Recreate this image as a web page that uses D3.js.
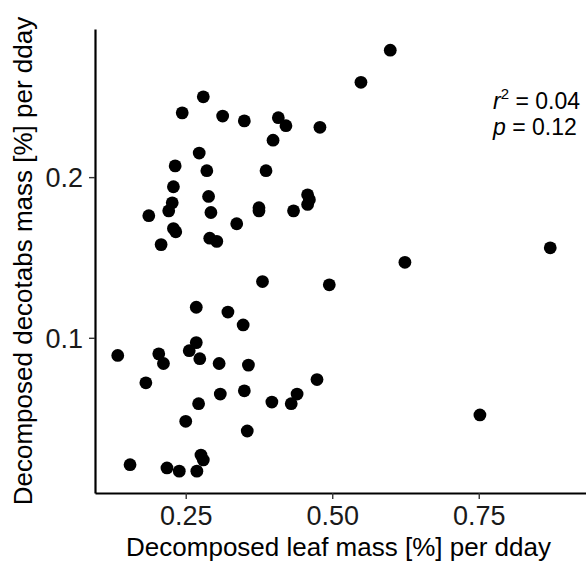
<!DOCTYPE html>
<html>
<head>
<meta charset="utf-8">
<script src="https://cdn.jsdelivr.net/npm/d3@7"></script>
<style>
  html, body { margin: 0; padding: 0; background: #fff; }
  svg { display: block; }
  text { font-family: "Liberation Sans", Arial, Helvetica, sans-serif; }
</style>
</head>
<body>
<svg id="chart" width="586" height="562"></svg>
<script>
// Decomposed leaf mass [%] per dday (x)
const leafMass = [
  0.280, 0.244, 0.313, 0.350, 0.408, 0.421, 0.399, 0.273, 0.232, 0.286,
  0.387, 0.229, 0.289, 0.227, 0.221, 0.187, 0.293, 0.375, 0.375, 0.434,
  0.337, 0.229, 0.233, 0.208, 0.291, 0.303, 0.381, 0.599, 0.549, 0.479,
  0.458, 0.461, 0.458, 0.872, 0.624, 0.495, 0.268, 0.322, 0.348, 0.268,
  0.256, 0.274, 0.134, 0.204, 0.212, 0.307, 0.357, 0.182, 0.350, 0.309,
  0.440, 0.397, 0.430, 0.272, 0.250, 0.355, 0.276, 0.280, 0.155, 0.218,
  0.239, 0.269, 0.474, 0.752
];
// Decomposed decotabs mass [%] per dday (y)
const decotabsMass = [
  0.250, 0.240, 0.238, 0.235, 0.237, 0.232, 0.223, 0.215, 0.207, 0.204,
  0.204, 0.194, 0.188, 0.184, 0.179, 0.176, 0.178, 0.181, 0.179, 0.179,
  0.171, 0.168, 0.166, 0.158, 0.162, 0.160, 0.135, 0.279, 0.259, 0.231,
  0.189, 0.186, 0.183, 0.156, 0.147, 0.133, 0.119, 0.116, 0.108, 0.097,
  0.092, 0.087, 0.089, 0.090, 0.084, 0.084, 0.083, 0.072, 0.067, 0.065,
  0.065, 0.060, 0.059, 0.059, 0.048, 0.042, 0.027, 0.024, 0.021, 0.019,
  0.017, 0.017, 0.074, 0.052
];
const xTicks = [0.25, 0.50, 0.75];
const yTicks = [0.1, 0.2];
const xTitle = "Decomposed leaf mass [%] per dday";
const yTitle = "Decomposed decotabs mass [%] per dday";
const statR2 = "0.04";
const statP = "0.12";

const points = leafMass.map((v, i) => ({ x: v, y: decotabsMass[i] }));

const svg = d3.select("#chart");
const panel = { left: 95, right: 586, top: 29, bottom: 493 };

const x = d3.scaleLinear().domain([0.0952, 0.933]).range([panel.left, panel.right]);
const y = d3.scaleLinear().domain([0.0034, 0.2922]).range([panel.bottom, panel.top]);

// points
svg.append("g")
  .selectAll("circle")
  .data(points)
  .join("circle")
  .attr("cx", d => x(d.x))
  .attr("cy", d => y(d.y))
  .attr("r", 6.4)
  .attr("fill", "#000");

// x axis
const gx = svg.append("g")
  .attr("transform", `translate(0,${panel.bottom})`)
  .call(d3.axisBottom(x).tickValues(xTicks).tickFormat(d3.format(".2f"))
    .tickSize(6).tickSizeOuter(0).tickPadding(5));
gx.select(".domain").attr("stroke", "#000").attr("stroke-width", 2.2);
gx.selectAll(".tick line").attr("stroke", "#333").attr("stroke-width", 1.4);
gx.selectAll(".tick text").attr("fill", "#1a1a1a")
  .style("font-size", "27px").attr("dy", "0.78em");

// y axis
const gy = svg.append("g")
  .attr("transform", `translate(${panel.left},0)`)
  .call(d3.axisLeft(y).tickValues(yTicks).tickFormat(d3.format(".1f"))
    .tickSize(6).tickSizeOuter(0).tickPadding(6));
gy.select(".domain").attr("stroke", "#000").attr("stroke-width", 2.2);
gy.selectAll(".tick line").attr("stroke", "#333").attr("stroke-width", 1.4);
gy.selectAll(".tick text").attr("fill", "#1a1a1a")
  .style("font-size", "27px").attr("dy", "0.36em");

// axis titles
svg.append("text")
  .attr("x", (panel.left + panel.right) / 2 - 2)
  .attr("y", 556)
  .attr("text-anchor", "middle")
  .style("font-size", "26px")
  .attr("fill", "#000")
  .text(xTitle);

svg.append("text")
  .attr("transform", `translate(32,${(panel.top + panel.bottom) / 2}) rotate(-90)`)
  .attr("text-anchor", "middle")
  .style("font-size", "26px")
  .attr("fill", "#000")
  .text(yTitle);

// annotation
const ann = svg.append("g").attr("transform", "translate(493,0)");
const t1 = ann.append("text").attr("x", 0).attr("y", 109).style("font-size", "23px").attr("fill", "#000");
t1.append("tspan").style("font-style", "italic").text("r");
t1.append("tspan").attr("dy", -10).style("font-size", "15px").text("2");
t1.append("tspan").attr("dy", 10).text(" = " + statR2);
const t2 = ann.append("text").attr("x", 0).attr("y", 135).style("font-size", "23px").attr("fill", "#000");
t2.append("tspan").style("font-style", "italic").text("p");
t2.append("tspan").text(" = " + statP);
</script>
</body>
</html>
